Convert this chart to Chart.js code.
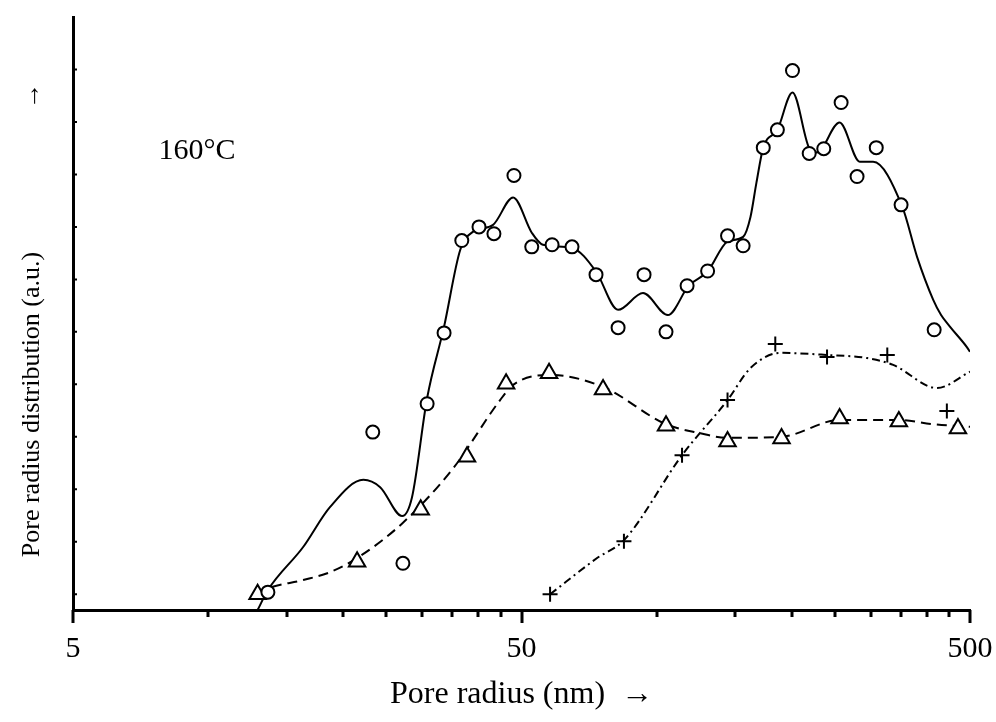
<!DOCTYPE html>
<html lang="en">
<head>
    <meta charset="UTF-8">
    <title>Pore radius distribution 160°C</title>
    <script src="https://cdn.jsdelivr.net/npm/chart.js"></script>
    <style>
        body { margin: 0; background: #fff; }
        #chartContainer { width: 996px; height: 722px; }
    </style>
</head>
<body>
<div id="chartContainer">
    <canvas id="poreChart"></canvas>
</div>

<script>
    // measured points (pore radius nm, a.u.)
    const circleX = [13.6, 23.3, 27.2, 30.8, 33.6, 36.8, 40.2, 43.4, 48.1, 52.7, 58.5, 64.8, 73.3, 82.1, 93.8,
                     105, 117, 130, 144, 156, 173, 186, 201, 219, 236, 258, 280, 309, 351, 416];
    const circleY = [0.04, 3.09, 0.59, 3.63, 4.98, 6.74, 7.00, 6.87, 7.98, 6.62, 6.66, 6.62, 6.09, 5.08, 6.09,
                     5.00, 5.88, 6.16, 6.83, 6.64, 8.51, 8.85, 9.98, 8.40, 8.49, 9.37, 7.96, 8.51, 7.42, 5.04];

    const triangleX = [12.9, 21.5, 29.8, 37.8, 46.2, 57.6, 76.0, 105, 144, 190, 256, 347, 470];
    const triangleY = [0.0, 0.62, 1.61, 2.62, 4.01, 4.21, 3.90, 3.21, 2.91, 2.97, 3.35, 3.29, 3.16];

    const plusX = [57.9, 84.6, 114, 144, 184, 240, 327, 444];
    const plusY = [0, 1.01, 2.65, 3.70, 4.77, 4.52, 4.56, 3.49];

    // fitted curves
    const fitSolidX = [12.9, 13.6, 16.3, 18.7, 22.2, 24.2, 27.1, 28.5, 30.8, 33.6, 36.5, 39.0, 43.2, 47.9, 52.7,
                       55.8, 64.8, 73.3, 82.1, 93.3, 106, 118, 130, 144, 156, 162, 167, 173, 186, 201, 220, 228,
                       256, 284, 304, 353, 381, 414, 431, 451, 492, 500];
    const fitSolidY = [-0.3, 0.08, 0.90, 1.66, 2.18, 2.04, 1.49, 1.85, 3.74, 5.10, 6.56, 6.91, 7.04, 7.56, 6.89,
                       6.66, 6.60, 6.15, 5.42, 5.74, 5.32, 5.88, 6.15, 6.72, 6.81, 7.19, 7.84, 8.51, 8.85, 9.56,
                       8.47, 8.42, 8.99, 8.24, 8.24, 7.39, 6.43, 5.61, 5.32, 5.10, 4.71, 4.62];

    const fitDashX = [12.9, 13.6, 16.3, 18.7, 21.5, 27.1, 35.2, 44.8, 47.9, 57.9, 76.0, 105, 125, 144, 190, 256, 347, 414, 500];
    const fitDashY = [0.0, 0.11, 0.27, 0.42, 0.69, 1.35, 2.40, 3.70, 3.99, 4.18, 3.95, 3.24, 3.07, 2.98, 3.00, 3.32, 3.32, 3.24, 3.19];

    const fitDotX = [57.9, 73.7, 84.6, 114, 144, 162, 189, 240, 295, 337, 422, 500];
    const fitDotY = [0, 0.69, 1.03, 2.65, 3.70, 4.31, 4.60, 4.56, 4.50, 4.37, 3.93, 4.24];

    // axes
    const xTicks = [5, 10, 15, 20, 25, 30, 35, 40, 45, 50, 100, 150, 200, 250, 300, 350, 400, 450, 500];
    const xLabels = [5, 50, 500];
    const yTicks = [0, 1, 2, 3, 4, 5, 6, 7, 8, 9, 10];

    const sampleLabel = '160°C';
    const sampleLabelPos = { x: 9.45, y: 8.3 };

    const toPoints = (xs, ys) => xs.map((x, i) => ({ x: x, y: ys[i] }));

    Chart.defaults.font.family = "'Liberation Serif', 'Times New Roman', serif";
    Chart.defaults.color = '#000';

    // tick marks: long ones at labelled decades, short inward ones on y
    const tickMarks = {
        id: 'tickMarks',
        afterDraw(chart) {
            const { ctx, chartArea } = chart;
            const x = chart.scales.x, y = chart.scales.y;
            ctx.save();
            ctx.strokeStyle = '#000';
            ctx.lineWidth = 3;
            ctx.beginPath();
            xTicks.forEach(v => {
                const px = Math.round(x.getPixelForValue(v));
                const len = xLabels.includes(v) ? 13 : 7;
                ctx.moveTo(px, chartArea.bottom);
                ctx.lineTo(px, chartArea.bottom + len);
            });
            ctx.stroke();
            ctx.lineWidth = 2;
            ctx.beginPath();
            yTicks.forEach(v => {
                const py = y.getPixelForValue(v);
                ctx.moveTo(chartArea.left, py);
                ctx.lineTo(chartArea.left + 4, py);
            });
            ctx.stroke();

            ctx.fillStyle = '#000';
            ctx.font = "30px 'Liberation Serif', serif";
            ctx.textAlign = 'center';
            ctx.textBaseline = 'alphabetic';
            ctx.fillText(sampleLabel, x.getPixelForValue(sampleLabelPos.x), y.getPixelForValue(sampleLabelPos.y));
            ctx.restore();
        }
    };

    const ctx = document.getElementById('poreChart').getContext('2d');

    new Chart(ctx, {
        type: 'scatter',
        data: {
            datasets: [
                {
                    label: 'circles',
                    data: toPoints(circleX, circleY),
                    pointStyle: 'circle',
                    pointRadius: 6.5,
                    borderWidth: 2,
                    borderColor: '#000',
                    backgroundColor: '#fff',
                    order: 0
                },
                {
                    label: 'triangles',
                    data: toPoints(triangleX, triangleY),
                    pointStyle: 'triangle',
                    pointRadius: 9.5,
                    borderWidth: 2,
                    borderColor: '#000',
                    backgroundColor: '#fff',
                    order: 0
                },
                {
                    label: 'crosses',
                    data: toPoints(plusX, plusY),
                    pointStyle: 'cross',
                    pointRadius: 7.5,
                    borderWidth: 2,
                    borderColor: '#000',
                    order: 0
                },
                {
                    label: 'fit circles',
                    data: toPoints(fitSolidX, fitSolidY),
                    showLine: true,
                    pointRadius: 0,
                    borderColor: '#000',
                    borderWidth: 2,
                    cubicInterpolationMode: 'monotone',
                    order: 1
                },
                {
                    label: 'fit triangles',
                    data: toPoints(fitDashX, fitDashY),
                    showLine: true,
                    pointRadius: 0,
                    borderColor: '#000',
                    borderWidth: 2,
                    borderDash: [10, 6],
                    cubicInterpolationMode: 'monotone',
                    order: 1
                },
                {
                    label: 'fit crosses',
                    data: toPoints(fitDotX, fitDotY),
                    showLine: true,
                    pointRadius: 0,
                    borderColor: '#000',
                    borderWidth: 2,
                    borderDash: [8, 4, 2, 4],
                    cubicInterpolationMode: 'monotone',
                    order: 1
                }
            ]
        },
        options: {
            responsive: true,
            maintainAspectRatio: false,
            animation: false,
            layout: { padding: { top: 17, right: 26, left: 0, bottom: 0 } },
            plugins: {
                legend: { display: false },
                tooltip: { enabled: false }
            },
            scales: {
                x: {
                    type: 'logarithmic',
                    min: 5,
                    max: 500,
                    afterBuildTicks: s => { s.ticks = xTicks.map(v => ({ value: v })); },
                    afterFit: s => {
                        s.height = 112;
                        s.paddingLeft = 0;
                        s.paddingRight = 0;
                    },
                    grid: { display: false, drawTicks: false },
                    border: { display: true, color: '#000', width: 3 },
                    ticks: {
                        autoSkip: false,
                        maxRotation: 0,
                        padding: 21,
                        font: { size: 30 },
                        callback: v => xLabels.includes(v) ? String(v) : ''
                    },
                    title: {
                        display: true,
                        text: 'Pore radius (nm)  →',
                        font: { size: 32 },
                        padding: { top: 0, bottom: 8 }
                    }
                },
                y: {
                    min: -0.3,
                    max: 11,
                    afterFit: s => {
                        s.width = 73;
                        s.paddingTop = 0;
                        s.paddingBottom = 0;
                    },
                    grid: { display: false, drawTicks: false },
                    border: { display: true, color: '#000', width: 3 },
                    ticks: { display: false },
                    title: {
                        display: true,
                        text: 'Pore radius distribution (a.u.)' + ' '.repeat(22) + '→' + ' '.repeat(2),
                        font: { size: 26 },
                        padding: { top: 17, bottom: 0 }
                    }
                }
            }
        },
        plugins: [tickMarks]
    });
</script>
</body>
</html>
